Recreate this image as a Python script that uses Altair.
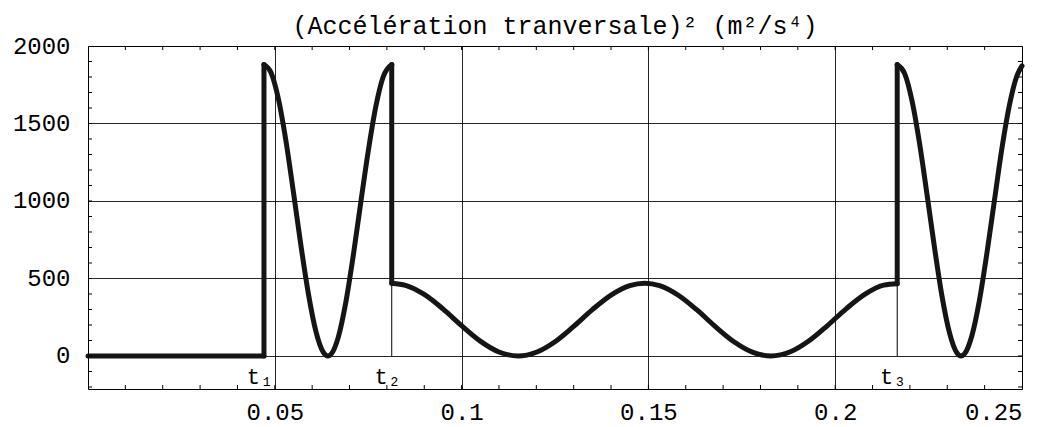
import altair as alt
import pandas as pd

# ---- data ----
# flat part before t1
seg0_t = [0.0, 0.0471]
seg0_y = [0, 0]
# first fast lobe, t1 -> t2
seg1_t = [0.0471, 0.049, 0.051, 0.053, 0.055, 0.057, 0.059, 0.061, 0.063, 0.0642,
          0.065, 0.067, 0.069, 0.071, 0.073, 0.075, 0.077, 0.079, 0.0813]
seg1_y = [1880, 1828, 1655, 1385, 1055, 712, 400, 159, 23, 0,
          10, 122, 345, 647, 988, 1320, 1605, 1800, 1880]
# slow part, t2 -> t3
seg2_t = [0.0813, 0.085, 0.09, 0.095, 0.1, 0.105, 0.11, 0.1151, 0.12, 0.125, 0.13,
          0.135, 0.14, 0.145, 0.149, 0.153, 0.158, 0.163, 0.168, 0.173, 0.178,
          0.1828, 0.188, 0.193, 0.198, 0.203, 0.208, 0.213, 0.2166]
seg2_y = [470, 456, 397, 304, 196, 96, 26, 0, 24, 92, 191,
          299, 393, 454, 470, 454, 392, 297, 188, 90, 23,
          0, 27, 98, 198, 306, 399, 457, 466]
# second fast lobe, t3 -> end
seg3_t = [0.2166, 0.2186, 0.2206, 0.2226, 0.2246, 0.2266, 0.2286, 0.2306, 0.2326, 0.2337,
          0.2346, 0.2366, 0.2386, 0.2406, 0.2426, 0.2446, 0.2466, 0.2486, 0.25]
seg3_y = [1880, 1822, 1642, 1368, 1038, 696, 384, 149, 19, 0,
          13, 132, 358, 662, 1000, 1336, 1615, 1805, 1872]

# instants t1, t2, t3 with the jump limits
jump_t = [0.0471, 0.0813, 0.2166]
jump_lo = [0, 470, 466]
jump_hi = [1880, 1880, 1880]
jump_lab = ["t\u2081", "t\u2082", "t\u2083"]

x_ticks = [0.05, 0.1, 0.15, 0.2, 0.25]
y_ticks = [0, 500, 1000, 1500, 2000]
x_minor = [round(0.01 * i, 2) for i in range(1, 25)]
y_minor = [100 * i for i in range(-2, 20)]

TITLE = "(Acc\u00e9l\u00e9ration tranversale)\u00b2 (m\u00b2/s\u2074)"
FONT = "Liberation Mono, DejaVu Sans Mono, monospace"
W, H = 934, 343

rows = []
for k, (ts, ys) in enumerate([(seg0_t, seg0_y), (seg1_t, seg1_y),
                              (seg2_t, seg2_y), (seg3_t, seg3_y)]):
    for t, y in zip(ts, ys):
        rows.append({"t": t, "a2": y, "seg": k})
curve_df = pd.DataFrame(rows)
jump_df = pd.DataFrame({"t": jump_t, "lo": jump_lo, "hi": jump_hi, "lab": jump_lab,
                        "zero": [0] * len(jump_t)})
xm_df = pd.DataFrame({"t": x_minor})
ym_df = pd.DataFrame({"v": y_minor})
title_df = pd.DataFrame({"txt": [TITLE]})

xs = alt.Scale(domain=[0, 0.25], nice=False, zero=False)
ys_ = alt.Scale(domain=[-213, 2000], nice=False, zero=False)

axis_common = dict(labelFont=FONT, labelFontSize=24, labelColor="black",
                   domain=False, ticks=False, tickSize=0,
                   grid=True, gridColor="black", gridOpacity=0.85, gridWidth=1,
                   title="")
XAX = alt.Axis(values=x_ticks, labelPadding=11, labelExpr="datum.value + ''", **axis_common)
YAX = alt.Axis(values=y_ticks, labelPadding=18, format="d", **axis_common)


def X(field):
    return alt.X(field, scale=xs, axis=XAX, title="")


def Y(field):
    return alt.Y(field, scale=ys_, axis=YAX, title="")


curve = alt.Chart(curve_df).mark_line(
    color="#151515", strokeWidth=5, strokeCap="round", strokeJoin="round",
    interpolate="monotone"
).encode(x=X("t:Q"), y=Y("a2:Q"), detail="seg:N")

drops = alt.Chart(jump_df).mark_rule(color="black", strokeWidth=1).encode(
    x=X("t:Q"), y=Y("zero:Q"), y2=alt.Y2("lo:Q"))

jumps = alt.Chart(jump_df).mark_rule(color="#151515", strokeWidth=5, strokeCap="round").encode(
    x=X("t:Q"), y=Y("lo:Q"), y2=alt.Y2("hi:Q"))

labels = alt.Chart(jump_df).mark_text(
    font=FONT, fontSize=22, color="black", baseline="middle", align="center", dy=21, dx=-4
).encode(x=X("t:Q"), y=Y("zero:Q"), text="lab:N")

tick_style = dict(color="black", strokeWidth=1)
left_ticks = alt.Chart(ym_df).mark_rule(**tick_style).encode(
    y=Y("v:Q"), x=alt.value(0), x2=alt.value(4))
right_ticks = alt.Chart(ym_df).mark_rule(**tick_style).encode(
    y=Y("v:Q"), x=alt.value(W), x2=alt.value(W - 4))
bottom_ticks = alt.Chart(xm_df).mark_rule(**tick_style).encode(
    x=X("t:Q"), y=alt.value(H), y2=alt.value(H - 4))
top_ticks = alt.Chart(xm_df).mark_rule(**tick_style).encode(
    x=X("t:Q"), y=alt.value(0), y2=alt.value(4))

title_mark = alt.Chart(title_df).mark_text(
    font=FONT, fontSize=25, color="black", baseline="middle", align="center"
).encode(x=alt.value(W / 2), y=alt.value(-20), text="txt:N")

chart = alt.layer(
    curve, drops, jumps, labels, left_ticks, right_ticks, bottom_ticks, top_ticks, title_mark
).properties(
    width=W, height=H,
    padding={"left": 80, "top": 38, "right": 20, "bottom": 38},
    autosize=alt.AutoSizeParams(type="none"),
    background="white",
).configure_view(
    stroke="black", strokeWidth=1
)

chart.save("out.html", embed_options={"renderer": "svg", "actions": False})
